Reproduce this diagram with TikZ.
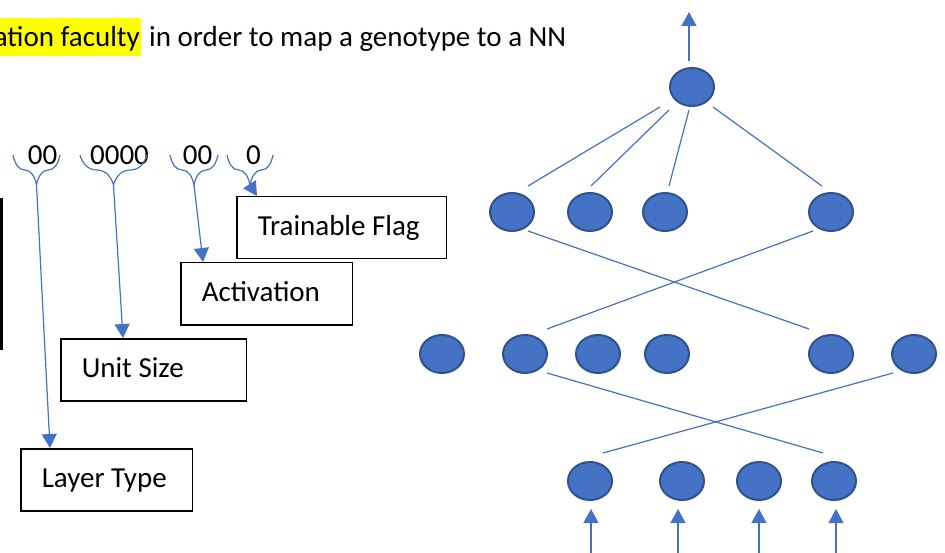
\documentclass[tikz,border=0pt]{standalone}
\usepackage{fontspec}
\setmainfont{Carlito}
\usetikzlibrary{shapes.geometric,arrows.meta,decorations.pathreplacing,calc}
\definecolor{nnfill}{HTML}{4472C4}
\definecolor{nnedge}{HTML}{2F528F}
\definecolor{hlyellow}{HTML}{FFFF00}
% left-aligned label of a fixed width
\newcommand{\fldtxt}[2]{\makebox[#1][l]{#2}}

\begin{document}
\begin{tikzpicture}[x=1pt,y=-1pt,
  neuron/.style={ellipse, fill=nnfill, draw=nnedge, line width=2pt,
    minimum width=44pt, minimum height=38pt, inner sep=0pt},
  link/.style={draw=nnfill, line width=1.2pt},
  arr/.style={link, -{Triangle[length=14pt,width=15pt]}},
  field/.style={draw, line width=1.5pt, anchor=north west, minimum height=62pt,
    inner xsep=21pt, inner ysep=0pt, text height=21pt, text depth=6pt},
  bits/.style={anchor=base, inner sep=0pt},
  bracket/.style={draw=nnfill, line width=1.2pt, decorate,
    decoration={brace, mirror, amplitude=30pt}},
  font=\fontsize{29}{35}\selectfont]

\useasboundingbox (0,0) rectangle (945,553);
\clip (0,0) rectangle (945,553);

% heading line
\node[fill=hlyellow, inner xsep=1.5pt, inner ysep=0pt, text height=29pt,
  text depth=9pt, anchor=base east] (hl) at (141.5,47) {ation faculty};
\node[anchor=base west, inner sep=0pt] (rest) at (149,47)
  {in order to map a genotype to a NN};

% edge of a box on the left
\draw[line width=3pt] (1.5,198) -- (1.5,350);

% genotype bits with their braces
\node[bits] (d1) at (42.5,165) {00};
\node[bits] (d2) at (119.5,165) {0000};
\node[bits] (d3) at (197.5,165) {00};
\node[bits] (d4) at (253.5,165) {0};

\draw[bracket] (13,155) -- (60,155);
\draw[bracket] (80,155) -- (147,155);
\draw[bracket] (170,155) -- (218,155);
\draw[bracket] (227,155) -- (273,155);
\coordinate (b1) at (36.5,185);
\coordinate (b2) at (113.5,185);
\coordinate (b3) at (194,185);
\coordinate (b4) at (250,185);

% field boxes
\node[field] (tf) at (236,196) {\fldtxt{167.5pt}{Trainable Flag}};
\node[field] (ac) at (180,262) {\fldtxt{129.5pt}{Activation}};
\node[field] (us) at (60,338) {\fldtxt{143.5pt}{Unit Size}};
\node[field] (lt) at (20,448) {\fldtxt{129.5pt}{Layer Type}};

\draw[arr] (b1) -- ($(lt.north west)+(30,0)$);
\draw[arr] (b2) -- ($(us.north west)+(63,0)$);
\draw[arr] (b3) -- ($(ac.north west)+(23,0)$);
\draw[arr] (b4) -- ($(tf.north west)+(21,0)$);

% network
\node[neuron] (t) at (692,87) {};

\node[neuron] (h1) at (512,212) {};
\node[neuron] (h2) at (590,212) {};
\node[neuron] (h3) at (665,212) {};
\node[neuron] (h4) at (831,212) {};

\node[neuron] (g1) at (442,354) {};
\node[neuron] (g2) at (525,354) {};
\node[neuron] (g3) at (598,354) {};
\node[neuron] (g4) at (667,354) {};
\node[neuron] (g5) at (831,354) {};
\node[neuron] (g6) at (914,354) {};

\node[neuron] (i1) at (590,481) {};
\node[neuron] (i2) at (682,481) {};
\node[neuron] (i3) at (759,481) {};
\node[neuron] (i4) at (834,481) {};

% output
\coordinate (out) at (689,12);
\draw[arr, shorten <=6pt] (out |- t.north) -- (out);

% top layer links
\draw[link] ($(t.center)+(-32,20)$) -- ($(h1.center)+(16,-26)$);
\draw[link] ($(t.center)+(-23,23)$) -- ($(h2.center)+(1,-26)$);
\draw[link] ($(t.center)+(-3,23)$) -- ($(h3.center)+(4,-26)$);
\draw[link] ($(t.center)+(21,20)$) -- ($(h4.center)+(-9,-26)$);

% crossing links
\draw[link] ($(h1.center)+(16,19)$) -- ($(g5.center)+(-22,-25)$);
\draw[link] ($(h4.center)+(-18,19)$) -- ($(g2.center)+(22,-25)$);
\draw[link] ($(g2.center)+(22,19)$) -- ($(i4.center)+(-11,-28)$);
\draw[link] ($(g6.center)+(-21,19)$) -- ($(i1.center)+(13,-28)$);

% inputs
\coordinate (in1) at (591,553);
\coordinate (in2) at (678,553);
\coordinate (in3) at (759,553);
\coordinate (in4) at (836,553);
\draw[arr, shorten >=8pt] (in1) -- (in1 |- i1.south);
\draw[arr, shorten >=8pt] (in2) -- (in2 |- i2.south);
\draw[arr, shorten >=8pt] (in3) -- (in3 |- i3.south);
\draw[arr, shorten >=8pt] (in4) -- (in4 |- i4.south);
\end{tikzpicture}
\end{document}
